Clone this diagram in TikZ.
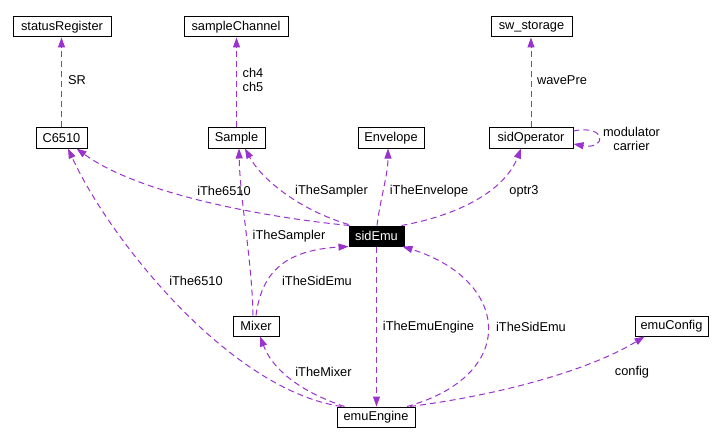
\documentclass[tikz,border=0pt]{standalone}
\usepackage{fontspec}
\setmainfont{Liberation Sans}
\usetikzlibrary{arrows.meta,calc}
\definecolor{edgec}{HTML}{9A32CD}
\begin{document}
\begin{tikzpicture}[x=1pt,y=-1pt,
  box/.style={draw=black,line width=1pt,minimum height=20pt,inner sep=0pt,fill=white,
    font=\fontsize{12.8}{14}\selectfont},
  dark/.style={box,fill=black,text=white},
  rel/.style={draw=edgec,line width=1pt,dash pattern=on 6pt off 4pt,
    -{Triangle[length=10pt,width=7pt]}},
  lab/.style={font=\fontsize{12.8}{14}\selectfont,inner sep=0pt,align=center}]
\useasboundingbox (0,0) rectangle (721,444);
\fill[white] (0,0) rectangle (721,444);

% nodes
\node[box,minimum width=98pt]  (statusRegister) at (62,27)    {statusRegister};
\node[box,minimum width=104pt] (sampleChannel)  at (236,27)   {sampleChannel};
\node[box,minimum width=81pt]  (swstorage)      at (531.5,27) {sw\_storage};
\node[box,minimum width=51pt]  (C6510)          at (61.5,138) {C6510};
\node[box,minimum width=57pt]  (Sample)         at (236.5,138){Sample};
\node[box,minimum width=66pt]  (Envelope)       at (391,138)  {Envelope};
\node[box,minimum width=84pt]  (sidOperator)    at (531,138)  {sidOperator};
\node[dark,minimum width=55pt] (sidEmu)         at (376.5,236){sidEmu};
\node[box,minimum width=46pt]  (Mixer)          at (256,326)  {Mixer};
\node[box,minimum width=78pt]  (emuEngine)      at (376,417)  {emuEngine};
\node[box,minimum width=73pt]  (emuConfig)      at (671.5,326){emuConfig};

% edges
\draw[rel] (C6510.north) -- (C6510.north |- statusRegister.south);
\draw[rel] (Sample.north) -- (Sample.north |- sampleChannel.south);
\draw[rel] (sidOperator.north) -- (sidOperator.north |- swstorage.south);
\draw[rel] ($(sidOperator.east)+(0,-7)$) .. controls (607,124) and (607,150) .. ($(sidOperator.east)+(0,6)$);

\draw[rel] ($(sidEmu.north west)+(1,0)$) .. controls (270,218) and (140,195) .. ($(C6510.south east)+(-11,0)$);
\draw[rel] ($(sidEmu.north west)+(0,-1)$) .. controls (300,210) and (262,180) .. ($(Sample.south)+(8.5,0)$);
\draw[rel] ($(sidEmu.north)+(0.5,0)$) .. controls (380,200) and (388,175) .. ($(Envelope.south)+(-3,0)$);
\draw[rel] ($(sidEmu.north east)+(-3,0)$) .. controls (460,215) and (505,190) .. ($(sidOperator.south)+(-10,0)$);

\draw[rel] ($(Mixer.north)+(-3,0)$) .. controls (252,260) and (240,200) .. ($(Sample.south)+(2.5,0)$);
\draw[rel] (Mixer.north) .. controls (262,268) and (290,250) .. (sidEmu.south west);

\draw[rel] (sidEmu.south) -- (sidEmu.south |- emuEngine.north);
\draw[rel] ($(emuEngine.north)+(31,0)$) .. controls (520,375) and (510,280) .. ($(sidEmu.south east)+(-2,0)$);
\draw[rel] ($(emuEngine.north west)+(8,0)$) .. controls (310,395) and (275,375) .. ($(Mixer.south)+(4,0)$);
\draw[rel] ($(emuEngine.north west)+(5,0)$) .. controls (230,390) and (110,240) .. ($(C6510.south)+(6.5,0)$);
\draw[rel] ($(emuEngine.north)+(34,0)$) .. controls (500,395) and (590,370) .. ($(emuConfig.south west)+(10,0)$);

% labels
\node[lab] (lSR)    at (77,80)    {SR};
\node[lab] (lch)    at (253,80)   {ch4\\ch5};
\node[lab] (lwave)  at (562,80)   {wavePre};
\node[lab] (lmod)   at (631.5,139){modulator\\carrier};
\node[lab] (l6510a) at (224,191)  {iThe6510};
\node[lab] (lsampa) at (331.5,191){iTheSampler};
\node[lab] (lenv)   at (429,191)  {iTheEnvelope};
\node[lab] (lop)    at (524,191)  {optr3};
\node[lab] (lsampb) at (289,236)  {iTheSampler};
\node[lab] (l6510b) at (196,281)  {iThe6510};
\node[lab] (lsida)  at (317,281)  {iTheSidEmu};
\node[lab] (leng)   at (428.5,327){iTheEmuEngine};
\node[lab] (lsidb)  at (531,327)  {iTheSidEmu};
\node[lab] (lmix)   at (323.5,372){iTheMixer};
\node[lab] (lconf)  at (632,372)  {config};
\end{tikzpicture}
\end{document}
